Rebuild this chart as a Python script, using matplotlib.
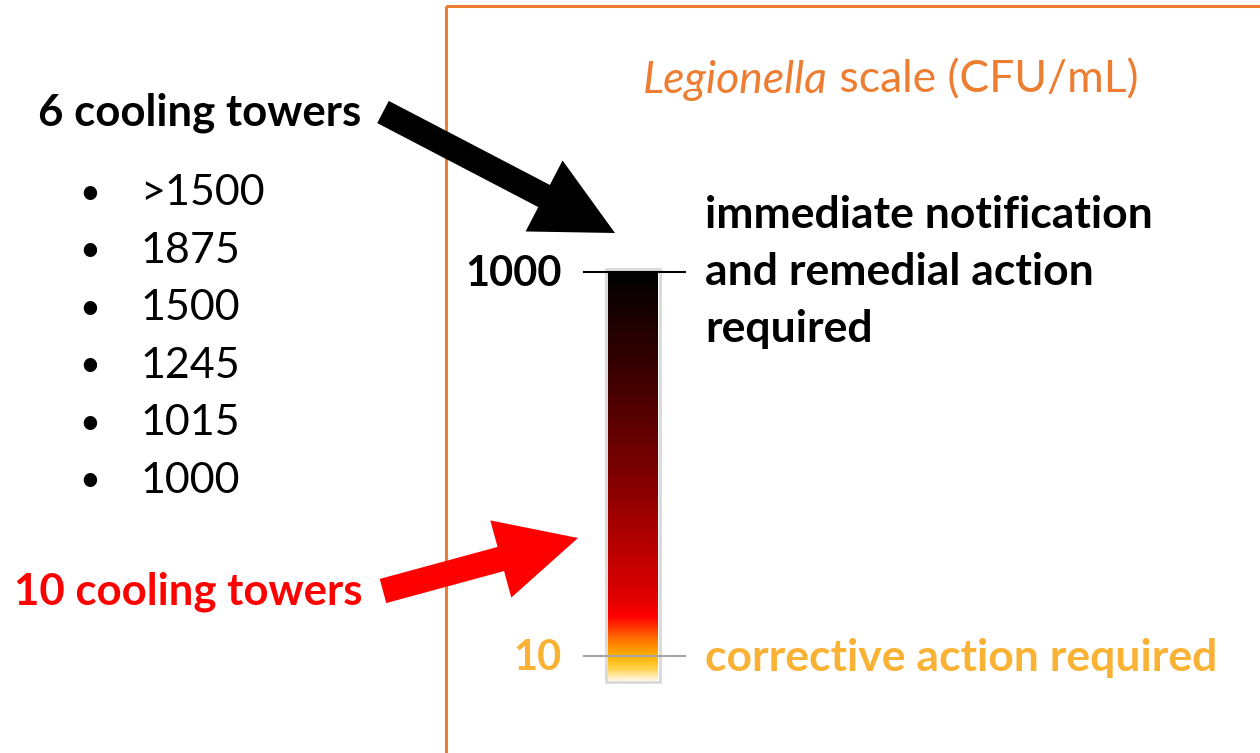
import numpy as np
import matplotlib.pyplot as plt
from matplotlib.colors import LinearSegmentedColormap
from matplotlib.patches import FancyArrow, Rectangle

plt.rcParams['font.family'] = ['Lato', 'DejaVu Sans']

# data
tower_groups = ['6 cooling towers', '10 cooling towers']
six_tower_values = ['>1500', '1875', '1500', '1245', '1015', '1000']
scale_levels = [1000, 10]
scale_notes = ['immediate notification\nand remedial action\nrequired',
               'corrective action required']
title_italic = 'Legionella'
title_rest = ' scale (CFU/mL)'

ORANGE = '#ED7D31'
GOLD = '#F9B233'
RED = '#FF0000'

fig = plt.figure(figsize=(12.6, 7.53), dpi=100)
ax = fig.add_axes([0, 0, 1, 1])
ax.set_xlim(0, 1260)
ax.set_ylim(753, 0)
ax.axis('off')

# orange frame
ax.add_patch(Rectangle((446, 6), 900, 800, fill=False, edgecolor=ORANGE, lw=2.2))

# title, italic genus name followed by the rest
t = ax.text(643, 80, title_italic, style='italic', color=ORANGE, fontsize=32,
            va='center', ha='left')
fig.canvas.draw()
bb = t.get_window_extent()
xe = ax.transData.inverted().transform((bb.x1, 0))[0]
ax.text(xe, 80, title_rest, color=ORANGE, fontsize=32, va='center', ha='left')

# gradient bar
bar_top, bar_bot = 271, 681
stops = [(0.0, '#000000'), (0.25, '#3c0000'), (0.5, '#800000'),
         (0.8, '#e00000'), (0.845, '#ff0000'), (0.9, '#ff7000'),
         (0.94, '#ffb000'), (0.97, '#ffd040'), (1.0, '#fff4dc')]
cmap = LinearSegmentedColormap.from_list('leg', stops)
grad = np.linspace(0, 1, 400).reshape(-1, 1)
ax.imshow(grad, cmap=cmap, extent=(608, 658, bar_bot, bar_top), aspect='auto',
          interpolation='bilinear', zorder=2)
ax.add_patch(Rectangle((606, bar_top - 2), 54, bar_bot - bar_top + 3, fill=False,
                       edgecolor='#d9d9d9', lw=2, zorder=3))

# ticks and labels
tick_y = [272, 656]
tick_col = ['black', '#a6a6a6']
lab_col = ['black', GOLD]
for lvl, y, tc, lc in zip(scale_levels, tick_y, tick_col, lab_col):
    ax.plot([584, 685], [y, y], color=tc, lw=1.5, zorder=4)
    ax.text(562, y + 2, str(lvl), ha='right', va='center', fontsize=30,
            fontweight='bold', color=lc)

ax.text(705, 272, scale_notes[0], ha='left', va='center', fontsize=32,
        fontweight='bold', color='black', linespacing=1.5)
ax.text(705, 658, scale_notes[1], ha='left', va='center', fontsize=32,
        fontweight='bold', color=GOLD)

# left side
ax.text(38, 113, tower_groups[0], ha='left', va='center', fontsize=31.5,
        fontweight='bold', color='black')
for i, v in enumerate(six_tower_values):
    y = 193 + i * 57.5
    ax.text(90, y, '\u2022', ha='center', va='center', fontsize=26, color='black')
    ax.text(140, y, v, ha='left', va='center', fontsize=31, color='black')
ax.text(14, 592, tower_groups[1], ha='left', va='center', fontsize=31.5,
        fontweight='bold', color=RED)

# arrows
def arrow(x0, y0, x1, y1, col):
    ax.add_patch(FancyArrow(x0, y0, x1 - x0, y1 - y0, width=25, head_width=80,
                            head_length=80, length_includes_head=True,
                            color=col, lw=0, zorder=5))

arrow(383, 112, 615, 233, 'black')
arrow(383, 591, 578, 538, RED)

fig.savefig('out.png', dpi=100)
